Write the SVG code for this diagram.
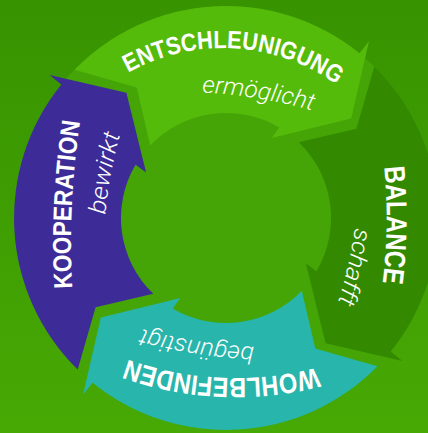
<svg xmlns="http://www.w3.org/2000/svg" xmlns:xlink="http://www.w3.org/1999/xlink" width="428" height="433" viewBox="0 0 428 433">
<defs>
<style>
.label{font-family:'Liberation Sans Narrow','Liberation Sans',Arial,sans-serif;font-weight:bold;fill:#ffffff;}
.verb{font-family:Roboto,'Open Sans','Liberation Sans',sans-serif;font-weight:300;font-style:italic;fill:#ffffff;font-size:24px;}
</style>
<linearGradient id="bg" x1="0" y1="0" x2="0" y2="1">
<stop offset="0" stop-color="#379300"/>
<stop offset="1" stop-color="#47a904"/>
</linearGradient>
<path id="arrowShape" d="M 77.7 369.5 A 212 212 0 0 1 61.3 84.6 L 49.6 75.1 L 126.4 92.8 L 146.1 172.4 L 135.5 164.7 A 105 105 0 0 0 153.3 293.8 L 95.6 307.3 Z"/>
<path id="pEnt" d="M 60.8 135.6 A 194 194 0 0 1 396.2 154.7" fill="none"/>
<path id="pBal" d="M 382 150 A 500 500 0 0 1 380 300" fill="none"/>
<path id="pWohl" d="M 395.5 335.2 A 320 320 0 0 1 52 320.2" fill="none"/>
<path id="pKoop" d="M 73 300 A 800 800 0 0 1 82 110" fill="none"/>
<path id="pErm" d="M 190 92 A 500 500 0 0 1 324 114" fill="none"/>
<path id="pSch" d="M 357 212 A 500 500 0 0 1 333 318" fill="none"/>
<path id="pBeg" d="M 268 347 A 500 500 0 0 1 128 325" fill="none"/>
<path id="pBew" d="M 104 229 A 500 500 0 0 1 124 120" fill="none"/>
</defs>
<rect width="428" height="433" fill="url(#bg)"/>
<circle id="ring" cx="226" cy="218" r="212" fill="#45a506"/>
<g id="connectors"></g>
<g id="node-entschleunigung">
<use href="#arrowShape" xlink:href="#arrowShape" transform="rotate(90 226 218)" fill="#55bb0a"/>
<text class="label" font-size="25"><textPath href="#pEnt" xlink:href="#pEnt" startOffset="50%" text-anchor="middle" textLength="220" lengthAdjust="spacingAndGlyphs">ENTSCHLEUNIGUNG</textPath></text>
<text class="verb"><textPath href="#pErm" xlink:href="#pErm" startOffset="50%" text-anchor="middle" textLength="112" lengthAdjust="spacingAndGlyphs">ermöglicht</textPath></text>
</g>
<g id="node-balance">
<use href="#arrowShape" xlink:href="#arrowShape" transform="rotate(180 226 218)" fill="#338a01"/>
<text class="label" font-size="29"><textPath href="#pBal" xlink:href="#pBal" startOffset="50%" text-anchor="middle" textLength="116" lengthAdjust="spacingAndGlyphs">BALANCE</textPath></text>
<text class="verb"><textPath href="#pSch" xlink:href="#pSch" startOffset="50%" text-anchor="middle" textLength="77" lengthAdjust="spacingAndGlyphs">schafft</textPath></text>
</g>
<g id="node-wohlbefinden">
<use href="#arrowShape" xlink:href="#arrowShape" transform="rotate(270 226 218)" fill="#28b5ab"/>
<text class="label" font-size="28"><textPath href="#pWohl" xlink:href="#pWohl" startOffset="50%" text-anchor="middle" textLength="193" lengthAdjust="spacingAndGlyphs">WOHLBEFINDEN</textPath></text>
<text class="verb"><textPath href="#pBeg" xlink:href="#pBeg" startOffset="50%" text-anchor="middle" textLength="114" lengthAdjust="spacingAndGlyphs">begünstigt</textPath></text>
</g>
<g id="node-kooperation">
<use href="#arrowShape" xlink:href="#arrowShape" fill="#3d2c98"/>
<text class="label" font-size="26"><textPath href="#pKoop" xlink:href="#pKoop" startOffset="50%" text-anchor="middle" textLength="167" lengthAdjust="spacingAndGlyphs">KOOPERATION</textPath></text>
<text class="verb"><textPath href="#pBew" xlink:href="#pBew" startOffset="50%" text-anchor="middle" textLength="82" lengthAdjust="spacingAndGlyphs">bewirkt</textPath></text>
</g>
</svg>
